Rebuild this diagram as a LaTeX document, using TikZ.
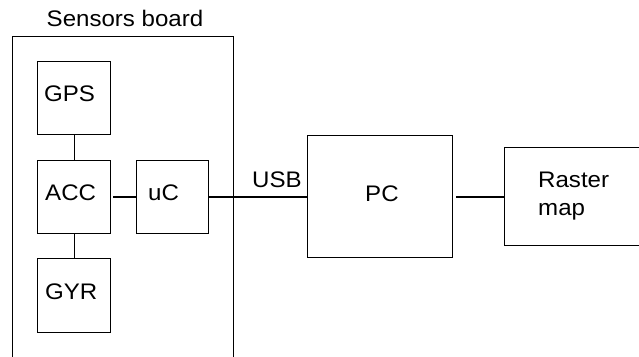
\documentclass[tikz,border=0pt]{standalone}
\usepackage{fontspec}
\setmainfont[FakeStretch=1.07]{Liberation Sans}
\begin{document}
\begin{tikzpicture}[x=1pt,y=-1pt,
  box/.style={draw=black,line width=1pt,rectangle,inner sep=0pt,anchor=north west},
  lbl/.style={inner sep=0pt,anchor=base west,font=\fontsize{22.5}{28}\selectfont},
  thinline/.style={line width=1pt},
  thickline/.style={line width=2pt}]
\clip (0,0) rectangle (639,356);
\fill[white] (0,0) rectangle (639,356);
% sensors board (open at bottom)
\coordinate (bl) at (12,357);
\coordinate (tl) at (12,36);
\coordinate (tr) at (233,36);
\coordinate (br) at (233,357);
\draw[thinline] (bl) -- (tl) -- (tr) -- (br);
\node[lbl,anchor=base] (boardt) at (125,27) {Sensors board};
% boxes
\node[box,minimum width=73,minimum height=73] (gps) at (37,61) {};
\node[box,minimum width=73,minimum height=73] (acc) at (37,160) {};
\node[box,minimum width=73,minimum height=74] (gyr) at (37,258) {};
\node[box,minimum width=72,minimum height=73] (uc) at (136,160) {};
\node[box,minimum width=145,minimum height=122] (pc) at (307,135) {};
\node[box,minimum width=160,minimum height=98] (rm) at (504,147) {};
% labels
\node[lbl] (gpst) at (44,101) {GPS};
\node[lbl] (acct) at (45,200) {ACC};
\node[lbl] (gyrt) at (45,299) {GYR};
\node[lbl] (uct) at (148,200) {uC};
\node[lbl] (pct) at (365,201) {PC};
\node[lbl] (usbt) at (252,187) {USB};
\node[lbl] (rmt1) at (538,187) {Raster};
\node[lbl] (rmt2) at (538,215) {map};
% connectors
\draw[thinline] (gps.south) -- (acc.north);
\draw[thinline] (acc.south) -- (gyr.north);
\draw[thickline,shorten <=2pt] (acc.east) -- (uc.west);
\draw[thickline] (uc.east) -- (pc.west |- uc.east);
\draw[thickline,shorten <=3pt] (pc.east) -- (rm.west |- pc.east);
\end{tikzpicture}
\end{document}
